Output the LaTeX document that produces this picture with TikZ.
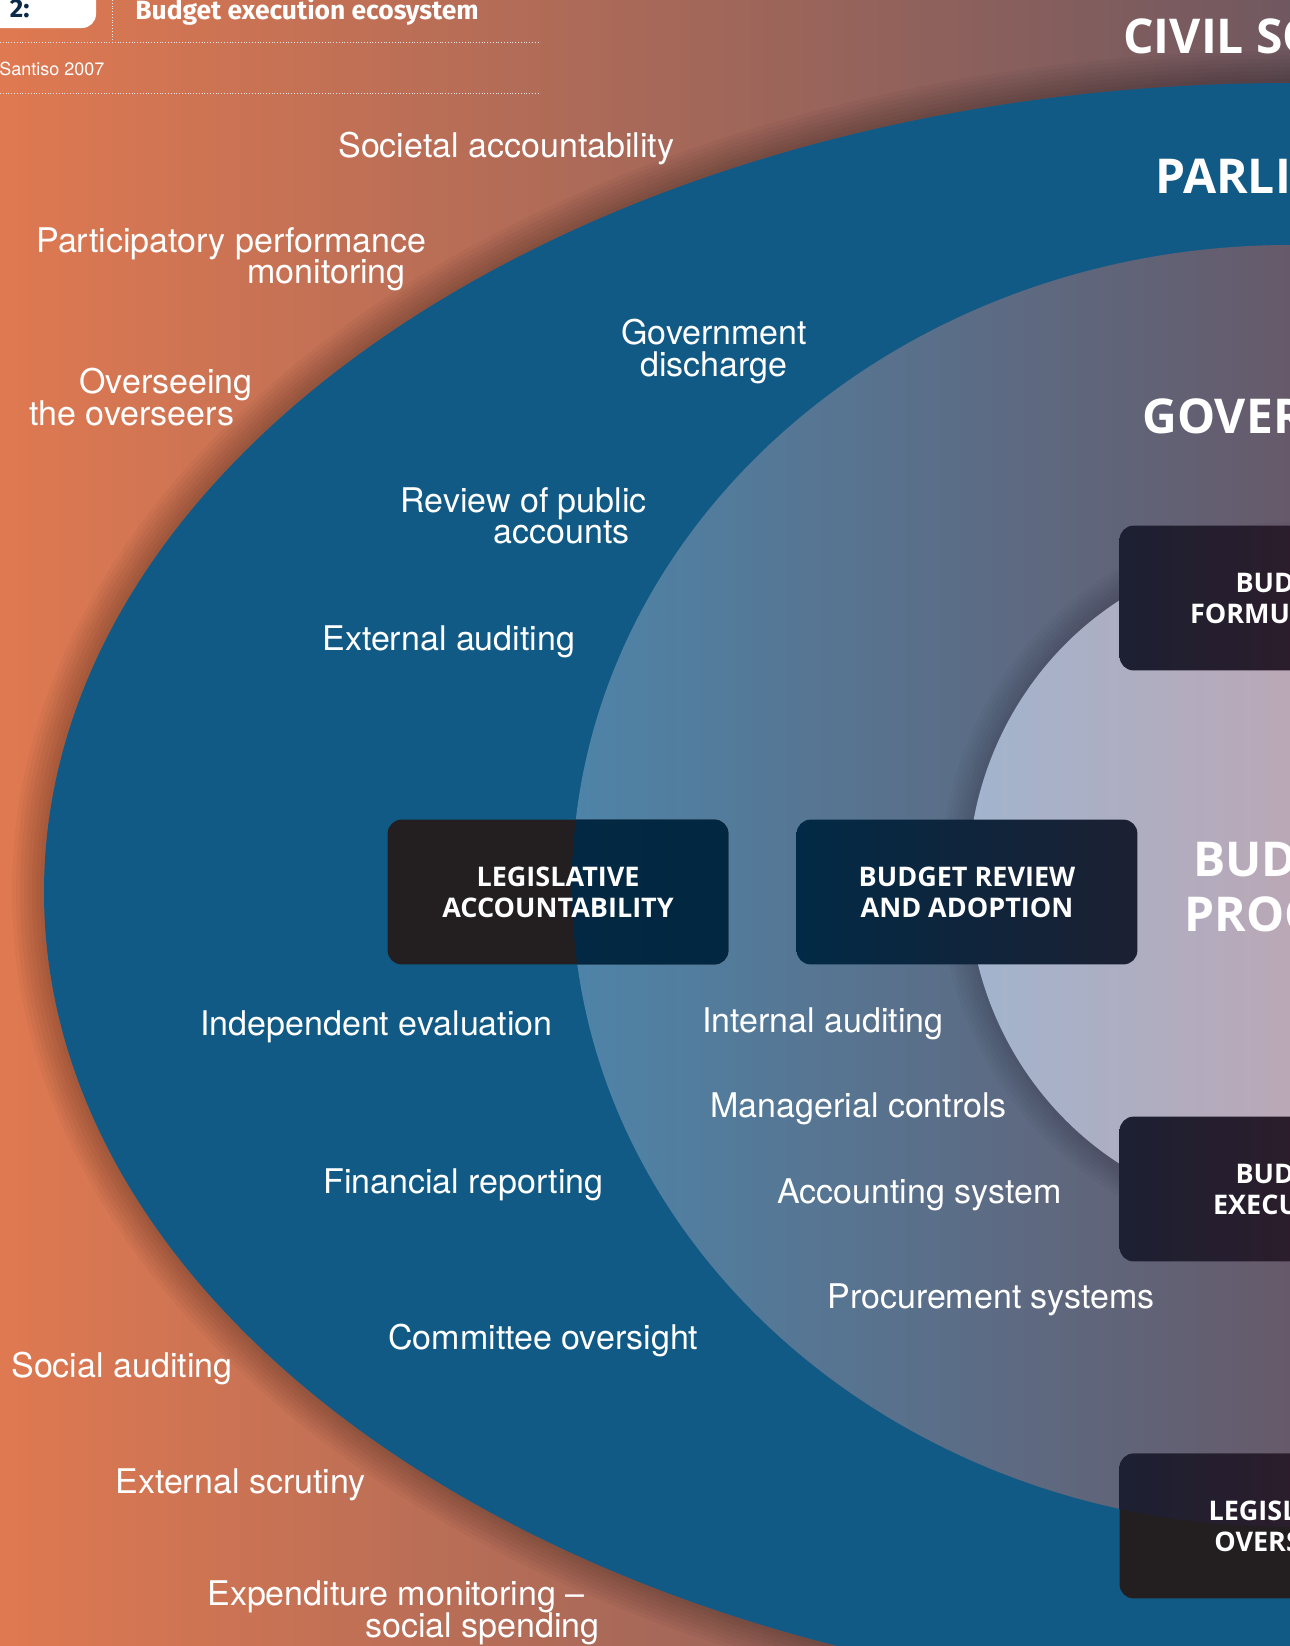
\documentclass[tikz,border=0pt]{standalone}
\usepackage{fontspec}
\setmainfont{TeX Gyre Heros}
\newfontfamily\headfont{Open Sans}
\newfontfamily\titlefont{Fira Sans}
\usetikzlibrary{positioning}

\pgfdeclarelayer{shapes}
\pgfdeclarelayer{boxes}
\pgfsetlayers{shapes,boxes,main}

\definecolor{orangel}{RGB}{223,121,81}
\definecolor{mauver}{RGB}{112,88,96}
\definecolor{parlblue}{RGB}{18,90,134}
\definecolor{govl}{RGB}{78,132,168}
\definecolor{govm}{RGB}{102,90,106}
\definecolor{innerl}{RGB}{162,180,206}
\definecolor{innerm}{RGB}{186,168,182}
\definecolor{charcoal}{RGB}{35,31,32}
\definecolor{boxnavy}{RGB}{2,42,70}
\definecolor{boxdusk}{RGB}{28,32,50}
\definecolor{boxplum}{RGB}{58,26,37}
\definecolor{figtag}{RGB}{11,42,74}

\begin{document}
\begin{tikzpicture}[x=0.5pt,y=-0.5pt,
    lbl/.style={anchor=base west, text=white, inner sep=0pt, font=\fontsize{17}{15.5}\selectfont},
    head/.style={text=white, inner sep=0pt, align=center, font=\headfont\bfseries\fontsize{24}{27.5}\selectfont},
    procbox/.style={minimum width=170pt, minimum height=72pt, inner sep=0pt, text=white, align=center, font=\headfont\bfseries\fontsize{13.5}{15.5}\selectfont},
    boxshape/.style={rounded corners=7pt},
    rule/.style={white!80!gray, densely dotted, line width=0.4pt}]
  \useasboundingbox (0,0) rectangle (1290,1646);

  \begin{pgfonlayer}{shapes}
    \shade[left color=orangel, right color=mauver] (0,0) rectangle (1290,1646);
    % parliament
    \foreach \d in {4,8,...,32}
      \fill[black, opacity=0.03] (1290,892) ellipse ({1246+\d} and {809+\d});
    \fill[parlblue] (1290,892) ellipse (1246 and 809);
    % government
    \shade[left color=govl, right color=govm, middle color=govm] (1290,886) ellipse (718 and 641);
    % budget process
    \foreach \d in {4,8,...,28}
      \fill[black, opacity=0.025] (1290,882) ellipse ({322+\d} and {332+\d});
    \shade[left color=innerl, right color=innerm, middle color=innerm] (1290,882) ellipse (322 and 332);
  \end{pgfonlayer}

  % header
  \fill[white, rounded corners=7pt] (-40,-40) rectangle (96,28);
  \node[anchor=base east, inner sep=0pt, text=figtag, font=\titlefont\bfseries\fontsize{13}{13}\selectfont] (fig) at (30,17) {2:};
  \node[anchor=base west, inner sep=0pt, text=white, font=\titlefont\bfseries\fontsize{13.2}{14}\selectfont] (title) at (135,19) {Budget execution ecosystem};
  \draw[rule] (112,0) -- (112,42);
  \draw[rule] (0,42) -- (539,42);
  \node[lbl, font=\fontsize{9}{10}\selectfont] (src) at (-1,75) {Santiso 2007};
  \draw[rule] (0,93) -- (539,93);

  % process boxes
  \node[procbox] (legacc) at (558,892) {LEGISLATIVE\\ACCOUNTABILITY};
  \node[procbox] (budrev) at (967,892) {BUDGET REVIEW\\AND ADOPTION};
  \node[procbox] (budform) at (1290,598) {BUDGET\\FORMULATION};
  \node[procbox] (budexec) at (1290,1189) {BUDGET\\EXECUTION};
  \node[procbox] (legover) at (1290,1526) {LEGISLATIVE\\OVERSIGHT};

  \begin{pgfonlayer}{boxes}
    \fill[charcoal, boxshape] (legacc.south west) rectangle (legacc.north east);
    \fill[charcoal, boxshape] (legover.south west) rectangle (legover.north east);
    \begin{scope}
      \clip (1290,886) ellipse (718 and 641);
      \shade[left color=boxnavy, right color=boxnavy!92!black, boxshape] (legacc.south west) rectangle (legacc.north east);
      \shade[left color=boxnavy, right color=boxdusk, boxshape] (budrev.south west) rectangle (budrev.north east);
      \shade[left color=boxdusk, right color=boxplum, boxshape] (budform.south west) rectangle (budform.north east);
      \shade[left color=boxdusk, right color=boxplum, boxshape] (budexec.south west) rectangle (budexec.north east);
      \shade[left color=boxdusk, right color=boxplum, boxshape] (legover.south west) rectangle (legover.north east);
    \end{scope}
  \end{pgfonlayer}

  % ring titles
  \node[head, anchor=base west] (civil) at (1123,53) {CIVIL SOCIETY};
  \node[head, anchor=base west] (parl) at (1155,193) {PARLIAMENT};
  \node[head, anchor=base west] (gov) at (1142,433) {GOVERNMENT};
  \node[head] (budproc) at (1290,887) {BUDGET\\PROCESS};

  % civil society
  \node[lbl] (soc) at (338,157) {Societal accountability};
  \node[lbl] (part1) at (36,252) {Participatory performance};
  \node[lbl] (part2) at (247,283) {monitoring};
  \node[lbl] (over1) at (79,393) {Overseeing};
  \node[lbl] (over2) at (29,425) {the overseers};
  \node[lbl] (socaud) at (11,1377) {Social auditing};
  \node[lbl] (extscr) at (115,1493) {External scrutiny};
  \node[lbl] (expmon1) at (207,1605) {Expenditure monitoring --};
  \node[lbl] (expmon2) at (365,1637) {social spending};

  % parliament
  \node[lbl] (gov1) at (621,344) {Government};
  \node[lbl] (gov2) at (640,376) {discharge};
  \node[lbl] (rev1) at (400,512) {Review of public};
  \node[lbl] (rev2) at (493,543) {accounts};
  \node[lbl] (extaud) at (322,650) {External auditing};
  \node[lbl] (indev) at (200,1035) {Independent evaluation};
  \node[lbl] (finrep) at (323,1193) {Financial reporting};
  \node[lbl] (commov) at (388,1349) {Committee oversight};

  % government
  \node[lbl] (intaud) at (702,1032) {Internal auditing};
  \node[lbl] (manag) at (710,1117) {Managerial controls};
  \node[lbl] (accsys) at (777,1203) {Accounting system};
  \node[lbl] (procsys) at (827,1308) {Procurement systems};
\end{tikzpicture}
\end{document}
